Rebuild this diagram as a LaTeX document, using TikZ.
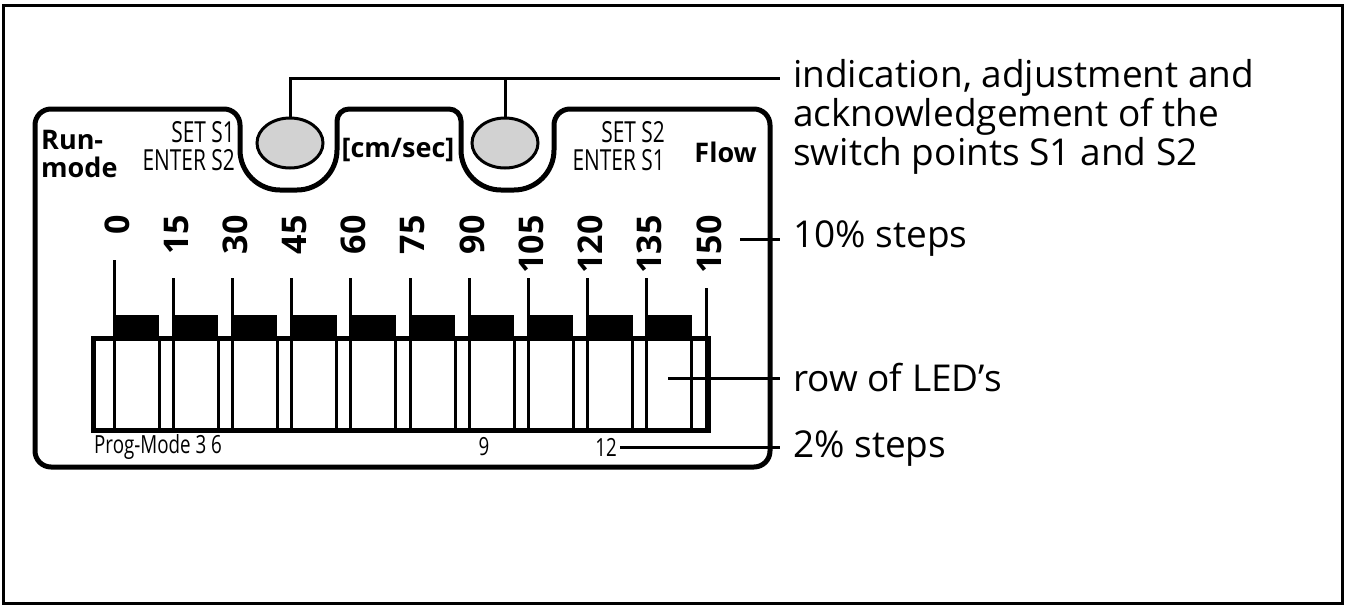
\documentclass[tikz,border=0pt]{standalone}
\usepackage{fontspec}
\setmainfont{Open Sans}
\usetikzlibrary{shapes.geometric}
\begin{document}
\begin{tikzpicture}[x=1pt,y=-1pt,
  lbl/.style={font=\fontsize{37}{39}\selectfont,anchor=west,inner sep=0},
  small/.style={font=\fontsize{29}{28}\selectfont\addfontfeature{FakeStretch=0.72},inner sep=0},
  tiny/.style={font=\fontsize{25}{28}\selectfont\addfontfeature{FakeStretch=0.75},inner sep=0},
  bld/.style={font=\fontsize{27}{28}\selectfont\bfseries,inner sep=0},
  num/.style={font=\fontsize{34}{34}\selectfont\bfseries,rotate=90,anchor=east,inner sep=0},
  lead/.style={line width=3pt}]
\useasboundingbox (0,0) rectangle (1345,606);
\draw[line width=3pt] (3,5) rectangle (1342,603);
% panel
\draw[line width=5pt,rounded corners=16]
 (35,300) -- (35,109) -- (240,109)
 [rounded corners=40] -- (240,190) -- (337,190)
 [rounded corners=12] -- (337,109) -- (461,109)
 [rounded corners=40] -- (461,190) -- (554,190)
 [rounded corners=16] -- (554,109) -- (770,109) -- (770,467) -- (35,467) -- cycle;
\node[draw,line width=3pt,fill=gray!35,ellipse,minimum width=66,minimum height=50] (b1) at (290,143) {};
\node[draw,line width=3pt,fill=gray!35,ellipse,minimum width=66,minimum height=50] (b2) at (505,143) {};
\coordinate (t1) at (780,78);
\draw[lead] (b1.north) -- (290,78) -- (t1);
\draw[lead] (b2.north) -- (505,78);
\node[lbl,anchor=west,align=left] (ind) at (793,117) {indication, adjustment and\\acknowledgement of the\\switch points S1 and S2};
\node[bld,anchor=west,align=left] (run) at (41,154) {Run-\\mode};
\node[small,anchor=east,align=right] (s1) at (235,146) {SET S1\\ENTER S2};
\node[bld] (cm) at (398,150) {[cm/sec]};
\node[small,anchor=east,align=right] (s2) at (665,146) {SET S2\\ENTER S1};
\node[bld,anchor=east] (flow) at (757,152) {Flow};
% LED row
\foreach \v [count=\i from 0] in {0,15,30,45,60,75,90,105,120,135,150}{
  \pgfmathsetmacro\xx{114+59.2*\i}
  \node[num] (n\i) at (\xx+3,215) {\v};
}
\foreach \i in {0,...,9}{
  \pgfmathsetmacro\xx{114+59.2*\i}
  \fill (\xx,315) rectangle (\xx+45,338);
  \draw[line width=3pt] (\xx,\ifnum\i=0 260\else 278\fi) -- (\xx,430);
  \draw[line width=3pt] (\xx+45,338) -- (\xx+45,430);
}
\draw[line width=3pt] (706,288) -- (706,430);
\draw[line width=5pt] (93,338) rectangle (708,430);
\node[tiny,anchor=west] (pm) at (94,447) {Prog-Mode 3 6};
\node[tiny] (p9) at (484,447) {9};
\node[tiny] (p12) at (606,447) {12};
\node[lbl] (two) at (793,449) {2\% steps};
\coordinate (e2) at (780,447);
\draw[lead] (p12.east) ++(3,0) -- (e2);
\node[lbl] (ten) at (793,239) {10\% steps};
\coordinate (e10) at (780,239);
\draw[lead] (740,239) -- (e10);
\node[lbl] (row) at (793,378) {row of LED’s};
\coordinate (er) at (780,378);
\draw[lead] (668,378) -- (er);
\end{tikzpicture}
\end{document}
